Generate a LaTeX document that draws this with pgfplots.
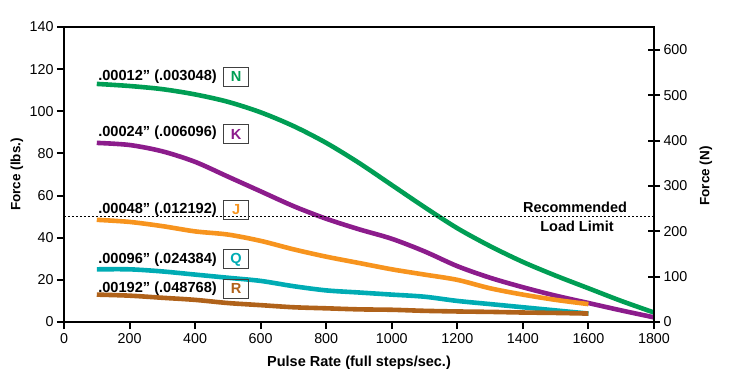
\documentclass[border=0pt]{standalone}
\usepackage{pgfplots}
\pgfplotsset{compat=1.18}
\usepackage{fontspec}
\setmainfont{Liberation Sans}
\definecolor{cN}{RGB}{0,158,84}
\definecolor{cK}{RGB}{140,28,140}
\definecolor{cJ}{RGB}{247,148,30}
\definecolor{cQ}{RGB}{0,172,180}
\definecolor{cR}{RGB}{176,98,26}
\begin{document}
\begin{tikzpicture}
\useasboundingbox (-64pt,-59pt) rectangle (665pt,322pt);
\begin{axis}[
  at={(0,0)}, anchor=south west, scale only axis,
  width=590pt, height=295pt,
  xmin=0, xmax=1800, ymin=0, ymax=140,
  xtick={0,200,...,1800}, ytick={0,20,...,140},
  xtick pos=left, ytick pos=left,
  tick align=outside, major tick length=7pt,
  axis line style={line width=2.4pt},
  every tick/.style={line width=2pt, black},
  tick label style={font=\fontsize{14.3}{14.3}\selectfont},
  /pgf/number format/assume math mode=true,
  /pgf/number format/1000 sep={},
  xticklabel style={yshift=-1pt},
  xlabel={\bfseries Pulse Rate (full steps/sec.)},
  xlabel style={font=\fontsize{14.5}{14.5}\selectfont, at={(axis description cs:0.5,0)}, anchor=center, yshift=-41pt},
  ylabel={\bfseries Force (lbs.)},
  ylabel style={font=\fontsize{13.5}{13.5}\selectfont, at={(axis description cs:-0.0797,0.5)}, anchor=center},
  clip=false,
  every axis plot/.append style={line width=4.6pt, smooth, tension=0.5},
]
\addplot[cN] coordinates {(100,113) (200,112) (300,110.5) (400,108) (500,104.5) (600,99.5) (700,93) (800,85) (900,75.5) (1000,65) (1100,54.5) (1200,44.5) (1300,36) (1400,28.5) (1500,22) (1600,16) (1700,10) (1800,4.5)};
\addplot[cK] coordinates {(100,85) (200,84) (300,81) (400,76) (500,69) (600,62) (700,55) (800,49) (900,44) (1000,39.5) (1100,33.5) (1200,26.5) (1300,21) (1400,16.5) (1500,12.5) (1600,9) (1700,5.5) (1800,2.2)};
\addplot[cJ] coordinates {(100,48.5) (200,47.5) (300,45.5) (400,43) (500,41.5) (600,38.5) (700,34.5) (800,31) (900,28) (1000,25) (1100,22.5) (1200,20) (1300,16) (1400,13) (1500,10.5) (1600,8.5)};
\addplot[cQ] coordinates {(100,25) (200,25) (300,24) (400,22.5) (500,21) (600,19.5) (700,17) (800,15) (900,14) (1000,13) (1100,12) (1200,10) (1300,8.5) (1400,7) (1500,5.5) (1600,4)};
\addplot[cR] coordinates {(100,13) (200,12.5) (300,11.5) (400,10.5) (500,9) (600,8) (700,7) (800,6.5) (900,6) (1000,5.8) (1100,5.3) (1200,5) (1300,4.8) (1400,4.5) (1500,4.3) (1600,4)};
\addplot[black, line width=0.8pt, dash pattern=on 2pt off 2pt, sharp plot] coordinates {(0,50) (1800,50)};
% labels
\tikzset{lab/.style={anchor=base west, font=\bfseries\fontsize{14.6}{14.6}\selectfont, inner sep=0pt},
         bx/.style={draw=black!75, line width=0.9pt, minimum width=25pt, minimum height=19pt, inner sep=0pt, font=\bfseries\fontsize{14.6}{14.6}\selectfont}}
\node[lab] at (axis cs:104,114.4) {.00012'' (.003048)};
\node[bx, text=cN] at (axis cs:525,116.3) {N};
\node[lab] at (axis cs:104,87.8) {.00024'' (.006096)};
\node[bx, text=cK] at (axis cs:525,89.2) {K};
\node[lab] at (axis cs:104,51.7) {.00048'' (.012192)};
\node[bx, text=cJ] at (axis cs:525,53.2) {J};
\node[lab] at (axis cs:104,28) {.00096'' (.024384)};
\node[bx, text=cQ] at (axis cs:525,29.7) {Q};
\node[lab] at (axis cs:104,14.2) {.00192'' (.048768)};
\node[bx, text=cR] at (axis cs:525,15.7) {R};
\node[anchor=base, font=\bfseries\fontsize{14.5}{14.5}\selectfont, inner sep=0pt] at (axis cs:1559,52.2) {Recommended};
\node[anchor=north, font=\bfseries\fontsize{14.5}{14.5}\selectfont, inner sep=0pt] at (axis cs:1565,48.2) {Load Limit};
\end{axis}
\begin{axis}[
  at={(0,0)}, anchor=south west, scale only axis,
  width=590pt, height=295pt,
  xmin=0, xmax=1800, ymin=0, ymax=650.7,
  axis x line=none, axis y line*=right,
  ytick={0,100,...,600},
  tick align=center, major tick length=12pt,
  axis line style={line width=2.4pt, -},
  every tick/.style={line width=2pt, black},
  tick label style={font=\fontsize{14.3}{14.3}\selectfont},
  /pgf/number format/assume math mode=true,
  ylabel={\bfseries Force (N)},
  ylabel style={font=\fontsize{13.5}{13.5}\selectfont, at={(axis description cs:1.088,0.495)}, anchor=center, rotate=0},
]
\addplot[draw=none] coordinates {(0,0)};
\end{axis}
\end{tikzpicture}
\end{document}
